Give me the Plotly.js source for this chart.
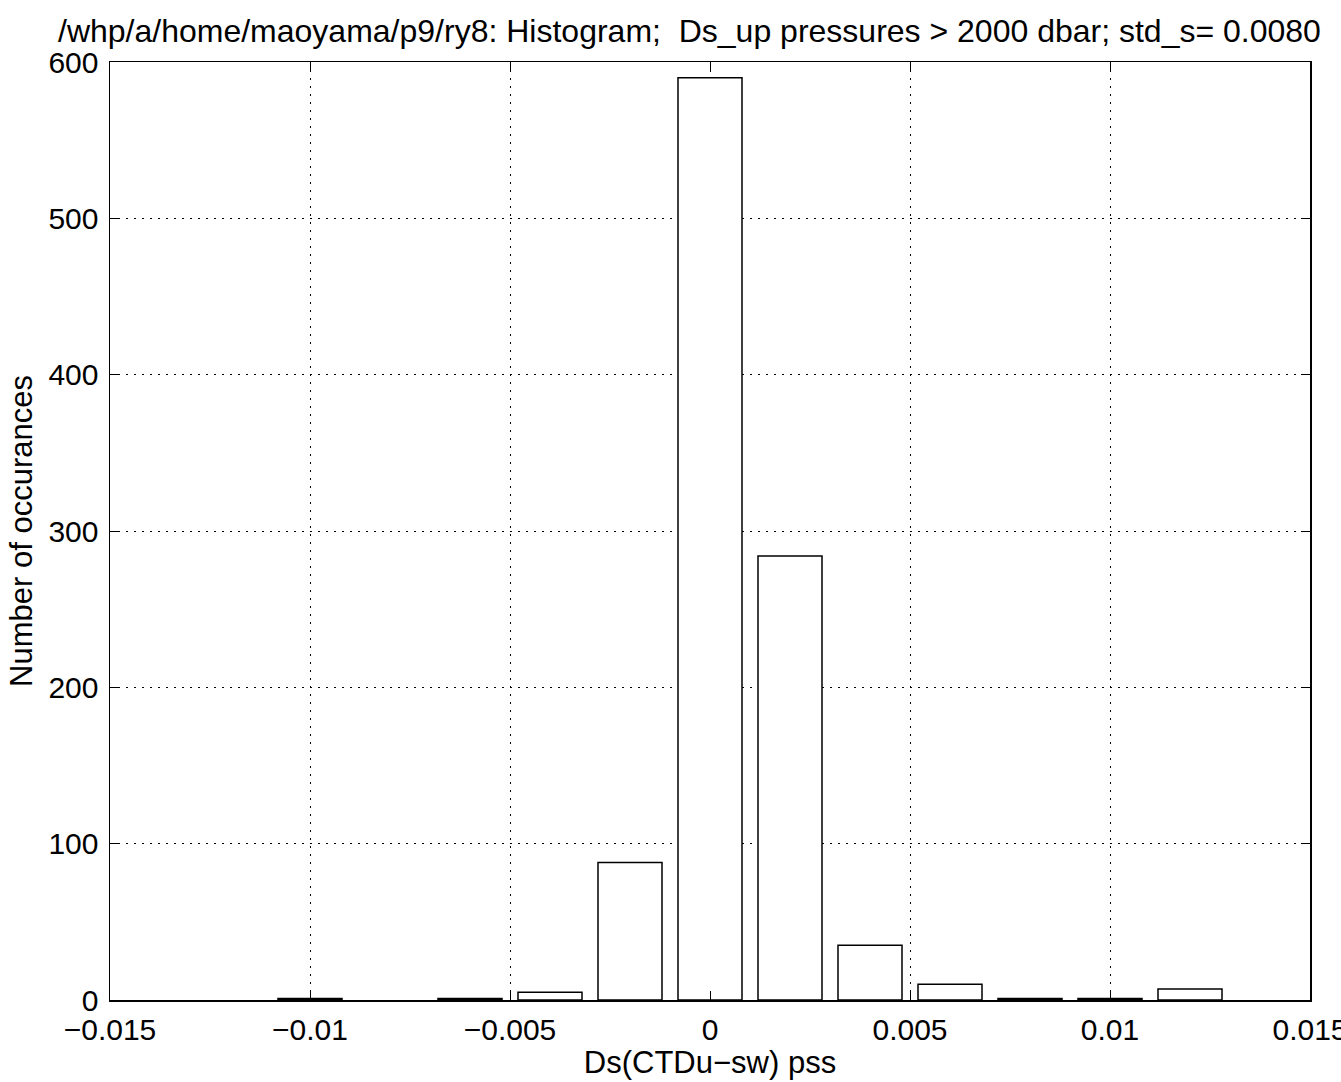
<!DOCTYPE html>
<html>
<head>
<meta charset="utf-8">
<script src="https://cdn.plot.ly/plotly-3.0.1.min.js"></script>
<style>
html,body{margin:0;padding:0;background:#fff;}
#chart{width:1341px;height:1082px;}
</style>
</head>
<body>
<div id="chart"></div>
<script>
// Histogram bin centers and counts (empty bins omitted)
const binCenters = [-0.010, -0.006, -0.004, -0.002, 0.000, 0.002, 0.004, 0.006, 0.008, 0.010, 0.012];
const counts     = [1, 1, 5, 88, 590, 284, 35, 10, 1, 1, 7];

const xTickVals = [-0.015, -0.01, -0.005, 0, 0.005, 0.01, 0.015];
const xTickText = ["\u22120.015", "\u22120.01", "\u22120.005", "0", "0.005", "0.01", "0.015"];
const yTickVals = [0, 100, 200, 300, 400, 500, 600];

const titleText = "/whp/a/home/maoyama/p9/ry8: Histogram;  Ds_up pressures > 2000 dbar; std_s= 0.0080";
const xTitle = "Ds(CTDu\u2212sw) pss";
const yTitle = "Number of occurances";

const font = "Liberation Sans, Arial, Helvetica, sans-serif";

const trace = {
  type: "bar",
  x: binCenters,
  y: counts,
  width: 0.0016,
  marker: {color: "#ffffff", line: {color: "#000000", width: 1.5}},
  hoverinfo: "x+y"
};

const axisCommon = {
  showline: true, linecolor: "#000", linewidth: 1.5, mirror: "ticks",
  ticks: "inside", ticklen: 9, tickcolor: "#000", tickwidth: 1,
  showgrid: true, gridcolor: "#000", griddash: "2px,6px", gridwidth: 1,
  zeroline: false,
  ticklabeloverflow: "allow",
  tickfont: {family: font, size: 30, color: "#000"}
};

const layout = {
  width: 1341, height: 1082,
  paper_bgcolor: "#fff", plot_bgcolor: "#fff",
  margin: {l: 110, r: 31, t: 62, b: 82},
  showlegend: false,
  title: {
    text: titleText,
    font: {family: font, size: 32, color: "#000"},
    x: 58 / 1341, xanchor: "left", xref: "container",
    y: 1 - 31 / 1082, yanchor: "middle", yref: "container"
  },
  xaxis: Object.assign({}, axisCommon, {
    range: [-0.015, 0.015],
    tickmode: "array", tickvals: xTickVals, ticktext: xTickText,
    ticklabelstandoff: 2,
    title: {text: xTitle, font: {family: font, size: 31, color: "#000"}, standoff: 0}
  }),
  yaxis: Object.assign({}, axisCommon, {
    range: [0, 600],
    tickmode: "array", tickvals: yTickVals,
    ticklabelstandoff: 4,
    title: {text: yTitle, font: {family: font, size: 31, color: "#000"}, standoff: 6}
  })
};

Plotly.newPlot("chart", [trace], layout, {displayModeBar: false, staticPlot: true});
</script>
</body>
</html>
